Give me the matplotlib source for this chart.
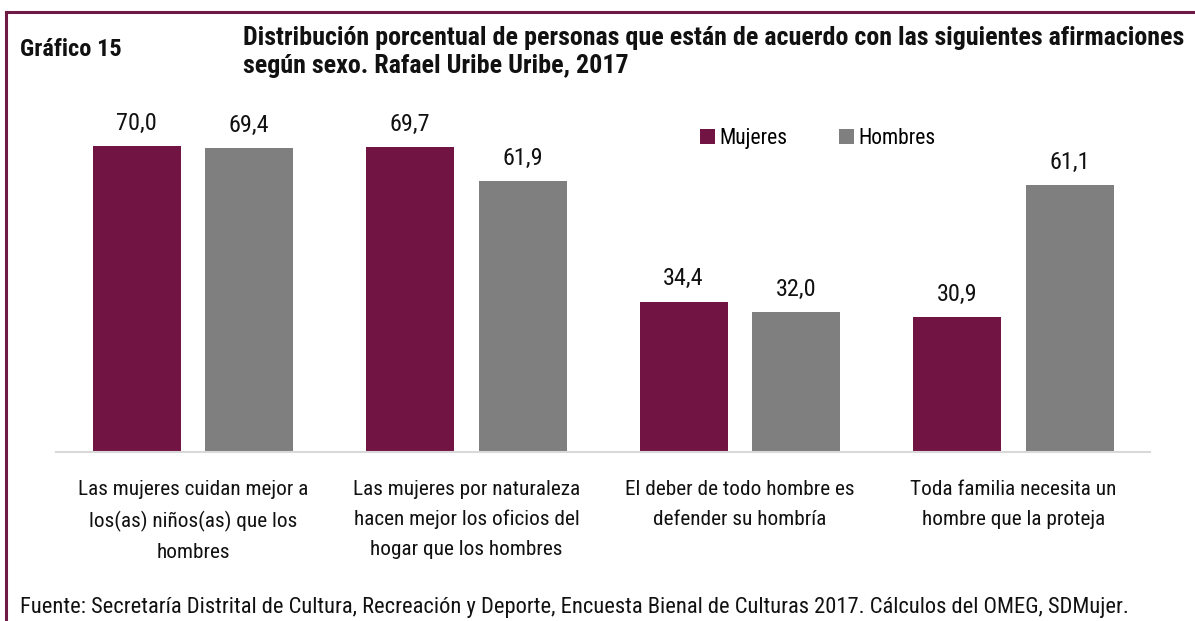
import matplotlib
matplotlib.use("Agg")
import matplotlib.pyplot as plt
import numpy as np

plt.rcParams['font.family'] = ['Roboto Condensed', 'DejaVu Sans']

categories = [
    "Las mujeres cuidan mejor a\nlos(as) niños(as) que los\nhombres",
    "Las mujeres por naturaleza\nhacen mejor los oficios del\nhogar que los hombres",
    "El deber de todo hombre es\ndefender su hombría",
    "Toda familia necesita un\nhombre que la proteja",
]
series_names = ["Mujeres", "Hombres"]
mujeres = [70.0, 69.7, 34.4, 30.9]
hombres = [69.4, 61.9, 32.0, 61.1]

C_M = "#721443"
C_H = "#7f7f7f"
FRAME = "#6e1a45"
TXT = "#111111"

fig = plt.figure(figsize=(11.95, 6.21), dpi=100)
ax = fig.add_axes([0.047, 0.2721, 0.9155, 0.5636])

x = np.arange(len(categories))
w = 0.322
off = 0.206
b1 = ax.bar(x - off, mujeres, w, color=C_M, label=series_names[0])
b2 = ax.bar(x + off, hombres, w, color=C_H, label=series_names[1])

def fmt(v):
    return f"{v:.1f}".replace(".", ",")

for bars, vals in ((b1, mujeres), (b2, hombres)):
    for r, v in zip(bars, vals):
        ax.annotate(fmt(v), (r.get_x() + r.get_width() / 2, v),
                    xytext=(0, 8), textcoords="offset points",
                    ha="center", va="bottom", fontsize=17.5, color=TXT)

ax.set_xlim(-0.5, 3.5)
ax.set_ylim(0, 80)
ax.set_yticks([])
ax.set_xticks(x)
ax.set_xticklabels(categories, fontsize=15.3, linespacing=1.72, color=TXT)
ax.tick_params(axis="x", length=0, pad=20)
for s in ("top", "right", "left"):
    ax.spines[s].set_visible(False)
ax.spines["bottom"].set_color("#d9d9d9")
ax.spines["bottom"].set_linewidth(1.5)

leg = ax.legend(loc="center left", bbox_to_anchor=(0.571, 0.895), ncol=2, frameon=False,
                fontsize=15.5, handlelength=0.7, handleheight=0.7, columnspacing=2.4,
                handletextpad=0.2)

fig.text(20 / 1195, 1 - 50 / 621, "Gráfico 15", fontsize=17.6, fontweight="bold",
         ha="left", va="center", color=TXT)
fig.text(243 / 1195, 1 - 52 / 621,
         "Distribución porcentual de personas que están de acuerdo con las siguientes afirmaciones\nsegún sexo. Rafael Uribe Uribe, 2017",
         fontsize=18.7, fontweight="bold", ha="left", va="center", linespacing=1.2, color=TXT)
fig.text(20 / 1195, 1 - 608 / 621,
         "Fuente: Secretaría Distrital de Cultura, Recreación y Deporte, Encuesta Bienal de Culturas 2017. Cálculos del OMEG, SDMujer.",
         fontsize=16.2, ha="left", va="center", color=TXT)

fig.add_artist(plt.Line2D([6 / 1195, 1.0], [1 - 12 / 621, 1 - 12 / 621], color=FRAME, lw=2.2,
                          transform=fig.transFigure))
fig.add_artist(plt.Line2D([6 / 1195, 6 / 1195], [0, 1 - 12 / 621], color=FRAME, lw=2.2,
                          transform=fig.transFigure))

fig.savefig("out.png", dpi=100)
